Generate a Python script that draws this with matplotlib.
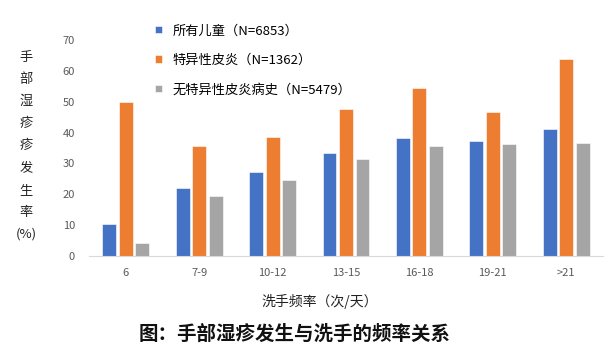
import numpy as np
import matplotlib
matplotlib.use('Agg')
import matplotlib.pyplot as plt

plt.rcParams['font.family'] = ['Noto Sans CJK SC', 'DejaVu Sans']

# Data
categories = ['6', '7-9', '10-12', '13-15', '16-18', '19-21', '>21']
all_children = [10.3, 22.1, 27.1, 33.4, 38.1, 37.2, 41.3]
atopic = [50.0, 35.7, 38.7, 47.6, 54.5, 46.8, 63.9]
no_atopic = [4.3, 19.3, 24.7, 31.5, 35.7, 36.2, 36.6]
series_labels = ['所有儿童（N=6853）', '特异性皮炎（N=1362）', '无特异性皮炎病史（N=5479）']
colors = ['#4472C4', '#ED7D31', '#A5A5A5']

fig = plt.figure(figsize=(6.12, 3.63), dpi=100)
ax = fig.add_axes([89 / 612, 1 - 256 / 363, (603 - 89) / 612, (256 - 40) / 363])

x = np.arange(len(categories))
width = 0.19
step = 0.225
handles = []
for i, (vals, lab, col) in enumerate(zip([all_children, atopic, no_atopic], series_labels, colors)):
    b = ax.bar(x + (i - 1) * step, vals, width, color=col, label=lab,
               edgecolor='white', linewidth=0.4)
    handles.append(b)

ax.set_xlim(-0.5, len(categories) - 0.5)
ax.set_ylim(0, 70)
ax.set_yticks(range(0, 71, 10))
ax.set_xticks(x)
ax.set_xticklabels(categories)
for s in ['top', 'right', 'left']:
    ax.spines[s].set_visible(False)
ax.spines['bottom'].set_color('#D9D9D9')
ax.tick_params(axis='both', length=0, labelsize=8, colors='#595959')
ax.tick_params(axis='y', pad=10)
ax.tick_params(axis='x', pad=9)

# Legend
fig.legend(handles=handles, labels=series_labels, loc='upper left',
           bbox_to_anchor=(150 / 612, 1 - 19 / 363), frameon=False,
           fontsize=9.5, handlelength=0.5, handleheight=0.5, handletextpad=0.8,
           labelspacing=1.25, borderaxespad=0)

# Vertical y label
ylabel_chars = ['手', '部', '湿', '疹', '疹', '发', '生', '率']
for k, ch in enumerate(ylabel_chars):
    fig.text(26 / 612, 1 - (57 + k * 22.2) / 363, ch, ha='center', va='center',
             fontsize=9.5, color='#222222')
fig.text(26 / 612, 1 - 234 / 363, '(%)', ha='center', va='center',
         fontsize=9.5, color='#222222')

# X label
fig.text(320 / 612, 1 - 301 / 363, '洗手频率（次/天）', ha='center', va='center',
         fontsize=10, fontstyle='italic', color='#222222')

# Caption
fig.text(295 / 612, 1 - 334 / 363, '图：手部湿疹发生与洗手的频率关系', ha='center', va='center',
         fontsize=14, fontweight='bold', color='#111111')

fig.savefig('out.png', dpi=100)
